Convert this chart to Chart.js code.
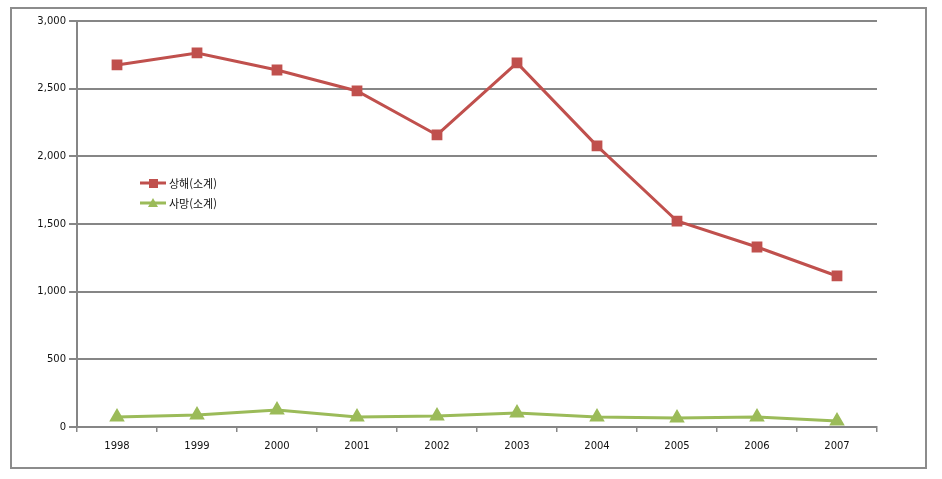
<!DOCTYPE html>
<html lang="ko">
<head>
    <meta charset="UTF-8">
    <title>상해 / 사망 추이</title>
    <script src="https://cdn.jsdelivr.net/npm/chart.js"></script>
    <style>
        body {
            margin: 0;
            background: #fff;
            width: 942px;
            height: 479px;
            overflow: hidden;
        }

        .frame {
            position: absolute;
            left: 10px;
            top: 7px;
            width: 913px;
            height: 458px;
            border: 2px solid #8c8c8c;
        }

        .chart-box {
            position: absolute;
            left: 0;
            top: 0;
            width: 942px;
            height: 479px;
        }
    </style>
</head>
<body>
    <div class="frame"></div>
    <div class="chart-box">
        <canvas id="lineChart" width="942" height="479"></canvas>
    </div>

    <script>
        const years = ["1998", "1999", "2000", "2001", "2002", "2003", "2004", "2005", "2006", "2007"];
        const injuries = [2675, 2764, 2638, 2483, 2158, 2690, 2077, 1522, 1330, 1116];
        const deaths = [74, 89, 126, 74, 81, 103, 74, 67, 74, 44];
        const yTicks = [0, 500, 1000, 1500, 2000, 2500, 3000];

        const red = "#c0504d";
        const green = "#9bbb59";
        const gridGray = "#868686";

        // legend drawn inside the plot, like the original
        const innerLegend = {
            id: "innerLegend",
            afterDraw(chart) {
                const ctx = chart.ctx;
                const rows = [
                    { text: "상해(소계)", color: red, shape: "rect", y: 183 },
                    { text: "사망(소계)", color: green, shape: "triangle", y: 203 }
                ];
                ctx.save();
                rows.forEach(r => {
                    ctx.strokeStyle = r.color;
                    ctx.fillStyle = r.color;
                    ctx.lineWidth = 3;
                    ctx.beginPath();
                    ctx.moveTo(140, r.y);
                    ctx.lineTo(166, r.y);
                    ctx.stroke();
                    if (r.shape === "rect") {
                        ctx.fillRect(149, r.y - 4, 9, 9);
                    } else {
                        ctx.beginPath();
                        ctx.moveTo(153, r.y - 5);
                        ctx.lineTo(158, r.y + 4);
                        ctx.lineTo(148, r.y + 4);
                        ctx.closePath();
                        ctx.fill();
                    }
                    ctx.fillStyle = "#111";
                    ctx.font = "11px 'Noto Sans CJK KR'";
                    ctx.textBaseline = "middle";
                    ctx.fillText(r.text, 169, r.y + 1);
                });
                ctx.restore();
            }
        };

        new Chart(document.getElementById("lineChart"), {
            type: "line",
            data: {
                labels: years,
                datasets: [
                    {
                        label: "상해(소계)",
                        data: injuries,
                        borderColor: red,
                        backgroundColor: red,
                        borderWidth: 3,
                        pointStyle: "rect",
                        pointRadius: 5.5,
                        tension: 0
                    },
                    {
                        label: "사망(소계)",
                        data: deaths,
                        borderColor: green,
                        backgroundColor: green,
                        borderWidth: 3,
                        pointStyle: "triangle",
                        pointRadius: 6,
                        tension: 0
                    }
                ]
            },
            options: {
                responsive: false,
                animation: false,
                devicePixelRatio: 1,
                layout: {
                    padding: { left: 0, right: 65, top: 21, bottom: 0 }
                },
                plugins: {
                    legend: { display: false },
                    tooltip: { enabled: false }
                },
                scales: {
                    x: {
                        offset: true,
                        grid: {
                            offset: true,
                            drawOnChartArea: false,
                            drawTicks: true,
                            tickLength: 5,
                            color: gridGray,
                            lineWidth: 1.5
                        },
                        border: { color: gridGray, width: 2 },
                        ticks: {
                            color: "#111",
                            font: { family: "DejaVu Sans", size: 10 },
                            padding: 8,
                            maxRotation: 0,
                            autoSkip: false
                        },
                        afterFit(scale) {
                            scale.height = 52;
                        }
                    },
                    y: {
                        min: 0,
                        max: 3000,
                        afterBuildTicks(scale) {
                            scale.ticks = yTicks.map(v => ({ value: v }));
                        },
                        grid: {
                            color: gridGray,
                            lineWidth: 2,
                            tickLength: 8
                        },
                        border: { color: gridGray, width: 2 },
                        ticks: {
                            color: "#111",
                            font: { family: "DejaVu Sans", size: 10 },
                            padding: 3,
                            autoSkip: false,
                            callback: v => v.toLocaleString("en-US")
                        },
                        afterFit(scale) {
                            scale.width = 77;
                        }
                    }
                }
            },
            plugins: [innerLegend]
        });
    </script>
</body>
</html>
